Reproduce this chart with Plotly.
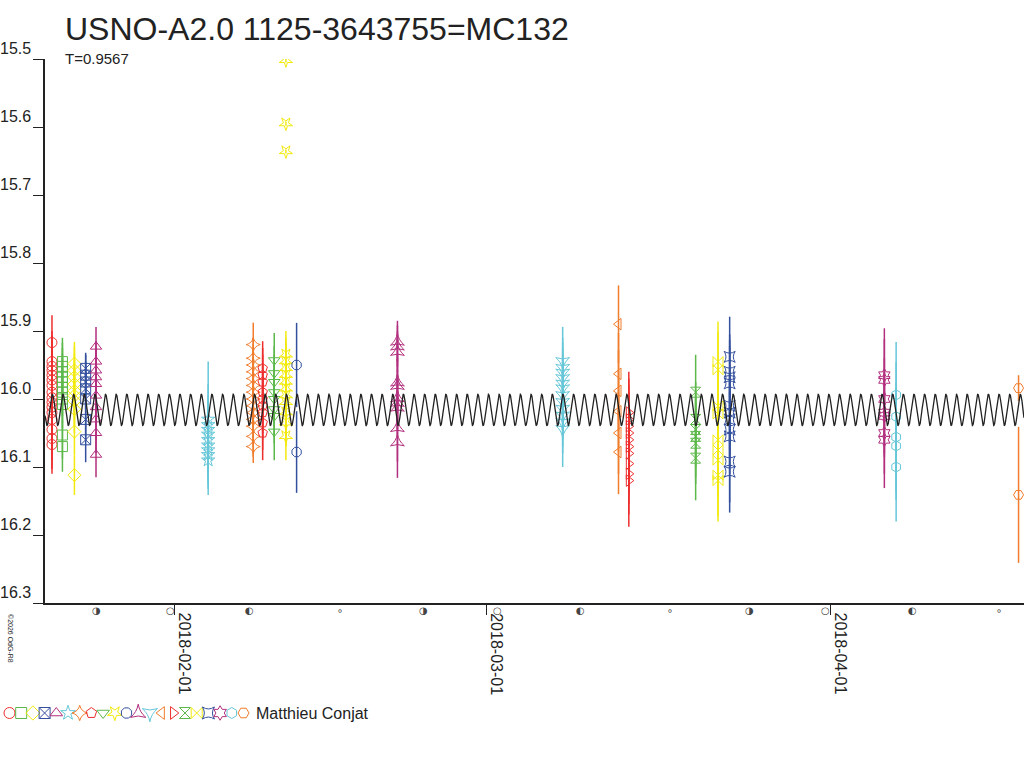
import numpy as np
import pandas as pd
import plotly.graph_objects as go

# --- data --------------------------------------------------------------
night_dates = [
    "2018-01-20 22:34", "2018-01-21 21:07", "2018-01-22 23:00", "2018-01-23 23:17",
    "2018-01-24 21:36", "2018-02-03 23:45", "2018-02-08 01:00", "2018-02-08 21:20",
    "2018-02-09 22:20", "2018-02-10 23:30", "2018-02-11 22:35", "2018-02-21 00:15",
    "2018-03-07 20:55", "2018-03-12 21:25", "2018-03-13 19:40", "2018-03-19 19:55",
    "2018-03-21 20:10", "2018-03-22 21:20", "2018-04-05 19:15", "2018-04-06 20:40",
    "2018-04-17 20:55",
]

night_mags = [
    [15.917, 15.945, 15.952, 15.958, 15.965, 15.972, 15.980, 15.990, 15.998, 16.005,
     16.012, 16.020, 16.030, 16.045, 16.058, 16.067],
    [15.945, 15.952, 15.960, 15.968, 15.975, 15.983, 15.990, 16.000, 16.008, 16.053, 16.070],
    [15.948, 15.958, 15.968, 15.978, 15.988, 15.995, 16.003, 16.015, 16.048, 16.112],
    [15.955, 15.965, 15.975, 15.985, 16.000, 16.030, 16.060],
    [15.923, 15.945, 15.958, 15.968, 15.978, 15.995, 16.012, 16.030, 16.050, 16.082],
    [16.030, 16.038, 16.045, 16.052, 16.060, 16.068, 16.075, 16.082, 16.090],
    [15.920, 15.940, 15.950, 15.960, 15.970, 15.980, 15.990, 16.000, 16.010, 16.020,
     16.030, 16.040, 16.055, 16.070],
    [15.955, 15.965, 15.975, 15.990, 16.000, 16.010, 16.020, 16.035, 16.050],
    [15.943, 15.962, 15.975, 15.990, 16.000, 16.015, 16.025, 16.048],
    [15.502, 15.595, 15.636, 15.935, 15.945, 15.955, 15.965, 15.975, 15.985, 15.995,
     16.005, 16.020, 16.035, 16.055],
    [15.950, 16.078],
    [15.915, 15.922, 15.930, 15.975, 15.980, 15.998, 16.005, 16.012, 16.042, 16.063],
    [15.945, 15.955, 15.962, 15.970, 15.978, 15.985, 15.995, 16.005, 16.015, 16.025,
     16.035, 16.045],
    [15.890, 15.963, 15.988, 16.018, 16.050, 16.078],
    [16.020, 16.030, 16.040, 16.050, 16.060, 16.070, 16.080, 16.095, 16.110, 16.120],
    [15.990, 16.030, 16.045, 16.055, 16.065, 16.087],
    [15.945, 15.957, 16.010, 16.022, 16.060, 16.075, 16.090, 16.112, 16.120],
    [15.938, 15.960, 15.968, 15.977, 16.010, 16.020, 16.030, 16.045, 16.055, 16.092, 16.107],
    [15.965, 15.972, 16.000, 16.020, 16.025, 16.050, 16.060],
    [15.994, 16.026, 16.056, 16.069, 16.100],
    [15.984, 16.141],
]

night_errs = [
    [0.040, 0.045, 0.045, 0.045, 0.045, 0.045, 0.045, 0.045, 0.045, 0.045,
     0.045, 0.045, 0.045, 0.045, 0.045, 0.043],
    [0.035, 0.035, 0.035, 0.035, 0.035, 0.035, 0.035, 0.035, 0.035, 0.035, 0.037],
    [0.032, 0.035, 0.035, 0.035, 0.035, 0.035, 0.035, 0.035, 0.035, 0.029],
    [0.023, 0.030, 0.030, 0.030, 0.030, 0.030, 0.033],
    [0.029, 0.030, 0.030, 0.030, 0.030, 0.030, 0.030, 0.030, 0.030, 0.033],
    [0.085, 0.060, 0.050, 0.050, 0.050, 0.050, 0.050, 0.050, 0.051],
    [0.032, 0.030, 0.030, 0.030, 0.030, 0.030, 0.030, 0.030, 0.030, 0.030,
     0.030, 0.030, 0.030, 0.024],
    [0.040, 0.040, 0.040, 0.040, 0.040, 0.040, 0.040, 0.040, 0.040],
    [0.040, 0.040, 0.040, 0.040, 0.040, 0.040, 0.040, 0.042],
    [0.003, 0.003, 0.003, 0.035, 0.035, 0.035, 0.035, 0.035, 0.035, 0.035,
     0.035, 0.035, 0.035, 0.035],
    [0.062, 0.060],
    [0.030, 0.030, 0.030, 0.040, 0.040, 0.040, 0.040, 0.040, 0.050, 0.053],
    [0.051, 0.045, 0.045, 0.045, 0.045, 0.045, 0.045, 0.045, 0.045, 0.045,
     0.045, 0.055],
    [0.057, 0.060, 0.060, 0.060, 0.060, 0.062],
    [0.060, 0.060, 0.060, 0.060, 0.060, 0.060, 0.060, 0.060, 0.060, 0.068],
    [0.055, 0.055, 0.055, 0.060, 0.060, 0.062],
    [0.059, 0.055, 0.055, 0.055, 0.055, 0.055, 0.055, 0.060, 0.060],
    [0.059, 0.055, 0.055, 0.055, 0.055, 0.055, 0.055, 0.055, 0.055, 0.060, 0.060],
    [0.069, 0.060, 0.060, 0.060, 0.060, 0.060, 0.071],
    [0.078, 0.080, 0.080, 0.080, 0.080],
    [0.019, 0.100],
]

night_symbols = [
    "circle-open", "square-open", "diamond-open", "square-x-open", "triangle-up-open",
    "star-open", "star-diamond-open", "pentagon-open", "triangle-down-open", "star-open",
    "octagon-open", "star-triangle-up-open", "star-triangle-down-open", "triangle-left-open",
    "triangle-right-open", "hourglass-open", "bowtie-open", "star-square-open",
    "hexagram-open", "hexagon-open", "hexagon2-open",
]
night_angles = [0, 0, 0, 0, 0, 0, 0, 0, 0, 180, 0, 0, 0, 0, 0, 0, 0, 0, 0, 0, 0]

palette = ["#ee2e2e", "#5cb84a", "#f2ea0c", "#33509e", "#b22f7e", "#66c7d8", "#f07c2c"]

# fitted model
period = 0.9567
model_epoch = "2018-01-29 14:00"
model_mean = 16.016
model_amp = 0.023

# moon phases under the time axis
moon_dates = [
    "2018-01-24 22:20", "2018-01-31 13:27", "2018-02-07 15:54", "2018-02-15 21:05",
    "2018-02-23 08:09", "2018-03-02 00:51", "2018-03-09 11:20", "2018-03-17 13:12",
    "2018-03-24 15:35", "2018-03-31 12:37", "2018-04-08 07:18", "2018-04-16 01:57",
]
moon_glyphs = ["◑", "○", "◐", "∘", "◑", "○", "◐", "∘", "◑", "○", "◐", "∘"]

x_range = ["2018-01-20 07:30", "2018-04-18 08:40"]
x_ticks = ["2018-02-01", "2018-03-01", "2018-04-01"]
y_ticks = [15.5, 15.6, 15.7, 15.8, 15.9, 16.0, 16.1, 16.2, 16.3]

W, H = 1024, 768
FONT = "Liberation Sans, Arial, sans-serif"
INK = "#222222"

fig = go.Figure()

for i, d in enumerate(night_dates):
    col = palette[i % len(palette)]
    fig.add_trace(
        go.Scatter(
            x=[d] * len(night_mags[i]),
            y=night_mags[i],
            mode="markers",
            marker=dict(symbol=night_symbols[i], size=10, color=col,
                        angle=night_angles[i], line=dict(width=1, color=col)),
            error_y=dict(type="data", array=night_errs[i], visible=True,
                         color=col, thickness=1.5, width=0),
            showlegend=False,
            hoverinfo="skip",
        )
    )

# model curve
t0 = pd.Timestamp(x_range[0])
t1 = pd.Timestamp(x_range[1])
ep = pd.Timestamp(model_epoch)
days = np.arange(0, (t1 - t0).total_seconds() / 86400, 0.01)
t_model = t0 + pd.to_timedelta(days, unit="D")
phase = ((t_model - ep).total_seconds() / 86400) / period
fig.add_trace(
    go.Scatter(
        x=t_model,
        y=model_mean - model_amp * np.cos(2 * np.pi * phase),
        mode="lines",
        line=dict(color=INK, width=1.3),
        showlegend=False,
        hoverinfo="skip",
    )
)

# symbol key along the bottom
key_cols = [palette[k % len(palette)] for k in range(len(night_symbols))]
fig.add_trace(
    go.Scatter(
        x=[9.5 + 11.7 * k for k in range(len(night_symbols))],
        y=[713] * len(night_symbols),
        mode="markers",
        marker=dict(symbol=night_symbols, angle=night_angles, size=11,
                    color=key_cols, line=dict(width=1, color=key_cols)),
        xaxis="x2",
        yaxis="y2",
        showlegend=False,
        hoverinfo="skip",
    )
)

annotations = []
for v in y_ticks:
    annotations.append(dict(
        x=33 / W, xref="paper", y=v, yref="y", text=f"{v:.1f}",
        xanchor="right", yanchor="bottom", showarrow=False,
        font=dict(family=FONT, size=16, color=INK),
    ))
for d in x_ticks:
    annotations.append(dict(
        x=d, xref="x", y=1 - 611 / H, yref="paper", text=d, textangle=90,
        xanchor="left", yanchor="top", xshift=0, showarrow=False,
        font=dict(family=FONT, size=16, color=INK),
    ))
for d, g in zip(moon_dates, moon_glyphs):
    annotations.append(dict(
        x=d, xref="x", y=1 - 603 / H, yref="paper", text=g,
        yanchor="top", showarrow=False,
        font=dict(family="DejaVu Sans", size=10, color="#444444"),
    ))
annotations += [
    dict(x=63 / W, y=1 - 29 / H, xref="paper", yref="paper",
         text="USNO-A2.0 1125-3643755=MC132", xanchor="left", yanchor="middle",
         showarrow=False, font=dict(family=FONT, size=32, color=INK)),
    dict(x=63 / W, y=1 - 58 / H, xref="paper", yref="paper", text="T=0.9567",
         xanchor="left", yanchor="middle", showarrow=False,
         font=dict(family=FONT, size=15, color=INK)),
    dict(x=254 / W, y=1 - 713 / H, xref="paper", yref="paper", text="Matthieu Conjat",
         xanchor="left", yanchor="middle", showarrow=False,
         font=dict(family=FONT, size=16, color=INK)),
    dict(x=5 / W, y=1 - 665 / H, xref="paper", yref="paper", text="©2026 OdG-R8",
         textangle=90, showarrow=False,
         font=dict(family=FONT, size=7, color=INK)),
]

fig.update_layout(
    width=W,
    height=H,
    margin=dict(l=0, r=0, t=0, b=0),
    paper_bgcolor="white",
    plot_bgcolor="rgba(0,0,0,0)",
    showlegend=False,
    xaxis=dict(
        domain=[45 / W, 1],
        type="date",
        range=x_range,
        tickvals=x_ticks,
        showticklabels=False,
        ticks="outside",
        ticklen=10,
        tickcolor=INK,
        showline=True,
        linecolor=INK,
        linewidth=1.5,
        showgrid=False,
        zeroline=False,
        automargin=False,
    ),
    yaxis=dict(
        domain=[1 - 603 / H, 1 - 59 / H],
        range=[16.3, 15.5],
        tickvals=y_ticks,
        showticklabels=False,
        ticks="outside",
        ticklen=10,
        tickcolor=INK,
        showline=True,
        linecolor=INK,
        linewidth=1.5,
        showgrid=False,
        zeroline=False,
        automargin=False,
    ),
    xaxis2=dict(domain=[0, 0.4], range=[0, 0.4 * W], visible=False, fixedrange=True),
    yaxis2=dict(domain=[0, 0.1], range=[H, H - 0.1 * H], visible=False, fixedrange=True),
    annotations=annotations,
)

# the browser's default 8px body margin would push the figure off the window
fig.write_html(
    "out.html",
    config={"displayModeBar": False},
    post_script="document.body.style.margin='0px';",
)
